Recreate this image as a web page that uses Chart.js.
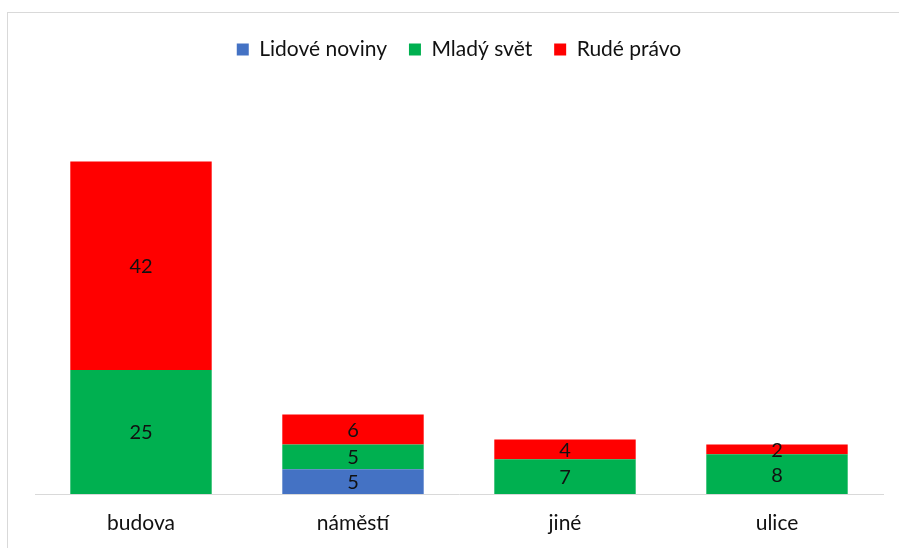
<!DOCTYPE html>
<html><head><meta charset="utf-8">
<script src="https://cdn.jsdelivr.net/npm/chart.js@4"></script>
<style>html,body{margin:0;padding:0;background:#fff;}canvas{display:block;}</style>
</head><body>
<canvas id="c" width="899" height="548"></canvas>
<script>
const categories = ["budova", "náměstí", "jiné", "ulice"];
const seriesNames = ["Lidové noviny", "Mladý svět", "Rudé právo"];
const lidoveNoviny = [null, 5, null, null];
const mladySvet = [25, 5, 7, 8];
const rudePravo = [42, 6, 4, 2];
const colors = ["#4472C4", "#00B050", "#FF0000"];
const FONT = "Lato, 'Open Sans', sans-serif";

const borderPlugin = {
  id: 'frame',
  beforeDraw(chart) {
    const ctx = chart.ctx;
    ctx.save();
    ctx.strokeStyle = '#d9d9d9';
    ctx.lineWidth = 1;
    ctx.strokeRect(7.5, 12.5, 1200, 1200);
    ctx.restore();
  }
};
const labelPlugin = {
  id: 'barLabels',
  afterDatasetsDraw(chart) {
    const ctx = chart.ctx;
    ctx.save();
    ctx.font = "20px " + FONT;
    ctx.fillStyle = '#111';
    ctx.textAlign = 'center';
    ctx.textBaseline = 'middle';
    chart.data.datasets.forEach((ds, i) => {
      chart.getDatasetMeta(i).data.forEach((bar, j) => {
        const v = ds.data[j];
        if (v == null) return;
        ctx.fillText(String(v), bar.x, (bar.y + bar.base) / 2 + 1);
      });
    });
    ctx.restore();
  }
};
const legendSpace = {
  id: 'legendSpace',
  beforeInit(chart) {
    const orig = chart.legend.fit;
    chart.legend.fit = function () { orig.bind(this)(); this.height += 27; };
  }
};

new Chart(document.getElementById('c'), {
  type: 'bar',
  data: {
    labels: categories,
    datasets: [
      { label: seriesNames[0], data: lidoveNoviny, backgroundColor: colors[0] },
      { label: seriesNames[1], data: mladySvet, backgroundColor: colors[1] },
      { label: seriesNames[2], data: rudePravo, backgroundColor: colors[2] }
    ]
  },
  options: {
    responsive: false,
    animation: false,
    layout: { padding: { left: 35, right: 16, top: 17, bottom: 0 } },
    datasets: { bar: { categoryPercentage: 1, barPercentage: 0.667 } },
    plugins: {
      legend: {
        position: 'top',
        labels: {
          font: { family: FONT, size: 21 },
          color: '#111',
          boxWidth: 12, boxHeight: 12,
          padding: 22
        }
      },
      tooltip: { enabled: false }
    },
    scales: {
      x: {
        stacked: true,
        grid: { display: false, drawTicks: false },
        border: { display: true, color: '#d9d9d9', width: 1 },
        ticks: { font: { family: FONT, size: 21 }, color: '#111', padding: 17 },
        afterFit(s) { s.height = 54; }
      },
      y: {
        stacked: true,
        display: false,
        min: 0, max: 80
      }
    }
  },
  plugins: [borderPlugin, labelPlugin, legendSpace]
});
</script>
</body></html>
